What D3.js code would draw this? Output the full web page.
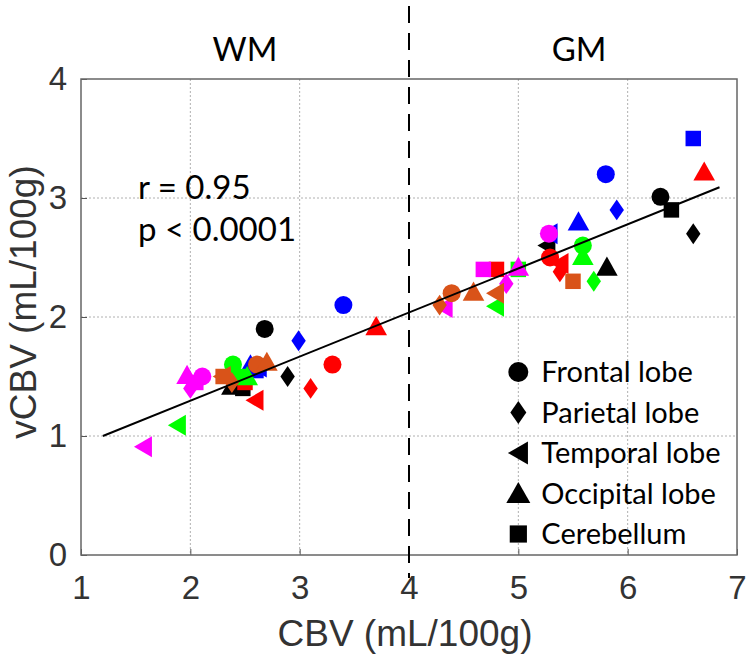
<!DOCTYPE html>
<html><head><meta charset="utf-8">
<script src="https://cdn.jsdelivr.net/npm/d3@7"></script>
<style>html,body{margin:0;padding:0;background:#fff;}</style>
</head><body>
<svg id="c" width="750" height="668"></svg>
<script>
// ---- data ----
const xTicks = [1, 2, 3, 4, 5, 6, 7];
const yTicks = [0, 1, 2, 3, 4];
const regions = ["Frontal lobe", "Parietal lobe", "Temporal lobe", "Occipital lobe", "Cerebellum"];
const shapes = ["circle", "diamond", "left", "up", "square"];
const subjectColors = ["#000000", "#0000ff", "#ff0000", "#00ff00", "#ff00ff", "#d95319"];
// per subject: [CBV, vCBV, regionIndex]
const subjBlack = [[2.68,1.90,0],[2.89,1.50,1],[2.42,1.45,2],[2.38,1.42,3],[2.48,1.40,4],
                   [6.30,3.01,0],[6.60,2.70,1],[5.26,2.60,2],[5.81,2.42,3],[6.40,2.90,4]];
const subjBlue  = [[3.40,2.10,0],[2.99,1.80,1],[2.62,1.58,2],[2.55,1.60,3],[2.60,1.55,4],
                   [5.80,3.20,0],[5.90,2.90,1],[5.28,2.70,2],[5.55,2.80,3],[6.60,3.50,4]];
const subjRed   = [[3.30,1.60,0],[3.10,1.40,1],[2.59,1.30,2],[3.70,1.92,3],[2.50,1.45,4],
                   [5.29,2.50,0],[5.38,2.38,1],[5.38,2.45,2],[6.70,3.22,3],[4.80,2.40,4]];
const subjGreen = [[2.39,1.60,0],[2.40,1.55,1],[1.88,1.09,2],[2.52,1.50,3],[2.45,1.50,4],
                   [5.59,2.60,0],[5.69,2.30,1],[4.79,2.09,2],[5.59,2.51,3],[5.00,2.40,4]];
const subjMagenta = [[2.11,1.50,0],[2.00,1.40,1],[1.57,0.91,2],[1.97,1.51,3],[2.05,1.45,4],
                   [5.28,2.70,0],[4.89,2.28,1],[4.32,2.08,2],[5.00,2.42,3],[4.68,2.40,4]];
const subjOrange = [[2.61,1.60,0],[2.38,1.45,1],[2.29,1.50,2],[2.70,1.62,3],[2.30,1.50,4],
                   [4.39,2.20,0],[4.28,2.10,1],[4.79,2.20,2],[4.59,2.21,3],[5.50,2.30,4]];
const subjects = [subjBlack, subjBlue, subjRed, subjGreen, subjMagenta, subjOrange];
const fitLine = [[1.2, 1.0], [6.84, 3.09]];
const boundaryCBV = 4;
const stats = ["r = 0.95", "p < 0.0001"];

// ---- layout ----
const L = 81, R = 737, T = 79, B = 555;
const svg = d3.select("#c");
const x = d3.scaleLinear().domain([1, 7]).range([L, R]);
const y = d3.scaleLinear().domain([0, 4]).range([B, T]);
const helv = "'Liberation Sans', Arial, sans-serif";
const calib = "Lato, 'Open Sans', sans-serif";

// grid
const g = svg.append("g");
g.selectAll(".gx").data(xTicks.filter(d => d > 1 && d < 7 && d !== 4)).join("line")
  .attr("x1", d => x(d)).attr("x2", d => x(d)).attr("y1", T).attr("y2", B)
  .attr("stroke", "#b0b0b0").attr("stroke-width", 1).attr("stroke-dasharray", "2,2");
g.selectAll(".gy").data(yTicks.filter(d => d > 0 && d < 4)).join("line")
  .attr("x1", L).attr("x2", R).attr("y1", d => y(d)).attr("y2", d => y(d))
  .attr("stroke", "#b0b0b0").attr("stroke-width", 1).attr("stroke-dasharray", "2,2");

// axes via d3
const xAxis = d3.axisBottom(x).tickValues(xTicks).tickSize(-6).tickPadding(21).tickFormat(d3.format("d"));
const yAxis = d3.axisLeft(y).tickValues(yTicks).tickSize(-6).tickPadding(14).tickFormat(d3.format("d"));
const ax = svg.append("g").attr("transform", `translate(0,${B})`).call(xAxis);
const ay = svg.append("g").attr("transform", `translate(${L},0)`).call(yAxis);
[ax, ay].forEach(a => {
  a.select(".domain").remove();
  a.selectAll(".tick line").attr("stroke", "#555");
  a.selectAll(".tick text").attr("fill", "#333").style("font-family", helv).style("font-size", "33px");
});
ax.selectAll(".tick text").attr("dy", "0.71em");
// box
svg.append("rect").attr("x", L).attr("y", T).attr("width", R - L).attr("height", B - T)
  .attr("fill", "none").attr("stroke", "#666").attr("stroke-width", 1.5);

// boundary dashed
svg.append("line").attr("x1", x(boundaryCBV)).attr("x2", x(boundaryCBV)).attr("y1", 6).attr("y2", 578)
  .attr("stroke", "#000").attr("stroke-width", 2).attr("stroke-dasharray", "17,10");

// markers
function sym(shape, s) {
  const p = d3.path();
  if (shape === "circle") { p.arc(0, 0, s * 0.5, 0, 2 * Math.PI); }
  else if (shape === "diamond") { p.moveTo(0, -s * 0.58); p.lineTo(s * 0.4, 0); p.lineTo(0, s * 0.58); p.lineTo(-s * 0.4, 0); p.closePath(); }
  else if (shape === "left") { p.moveTo(-s * 0.52, 0); p.lineTo(s * 0.48, -s * 0.58); p.lineTo(s * 0.48, s * 0.58); p.closePath(); }
  else if (shape === "up") { p.moveTo(0, -s * 0.58); p.lineTo(s * 0.6, s * 0.48); p.lineTo(-s * 0.6, s * 0.48); p.closePath(); }
  else { p.rect(-s * 0.43, -s * 0.43, s * 0.86, s * 0.86); }
  return p.toString();
}
const ms = 18;
subjects.forEach((pts, i) => {
  svg.append("g").selectAll("path").data(pts).join("path")
    .attr("transform", d => `translate(${x(d[0])},${y(d[1])})`)
    .attr("d", d => sym(shapes[d[2]], ms))
    .attr("fill", subjectColors[i]);
});

// fit line
svg.append("path").datum(fitLine)
  .attr("d", d3.line().x(d => x(d[0])).y(d => y(d[1])))
  .attr("stroke", "#000").attr("stroke-width", 2).attr("fill", "none");

// labels
svg.append("text").attr("x", (L + x(boundaryCBV)) / 2).attr("y", 61).attr("text-anchor", "middle")
  .style("font-family", calib).style("font-size", "33px").text("WM");
svg.append("text").attr("x", (x(boundaryCBV) + R) / 2 + 6).attr("y", 61).attr("text-anchor", "middle")
  .style("font-family", calib).style("font-size", "33px").text("GM");
svg.selectAll(".st").data(stats).join("text")
  .attr("x", 138).attr("y", (d, i) => 199 + i * 42)
  .style("font-family", calib).style("font-size", "33px").text(d => d);

// axis titles
svg.append("text").attr("x", (L + R) / 2 - 4).attr("y", 646).attr("text-anchor", "middle")
  .style("font-family", helv).style("font-size", "37px").attr("fill", "#333")
  .text("CBV (mL/100g)");
svg.append("text").attr("transform", `translate(36,${(T + B) / 2 - 15}) rotate(-90)`).attr("text-anchor", "middle")
  .style("font-family", helv).style("font-size", "37px").attr("fill", "#333")
  .text("vCBV (mL/100g)");

// legend
const lg = svg.append("g");
const lx = x(5), ly0 = 372, lstep = 40.5;
regions.forEach((r, i) => {
  lg.append("path").attr("transform", `translate(${lx},${ly0 + i * lstep})`).attr("d", sym(shapes[i], 20)).attr("fill", "#000");
  lg.append("text").attr("x", lx + 23).attr("y", ly0 + i * lstep).attr("dy", "0.36em")
    .style("font-family", calib).style("font-size", "29px").text(r);
});
</script>
</body></html>
